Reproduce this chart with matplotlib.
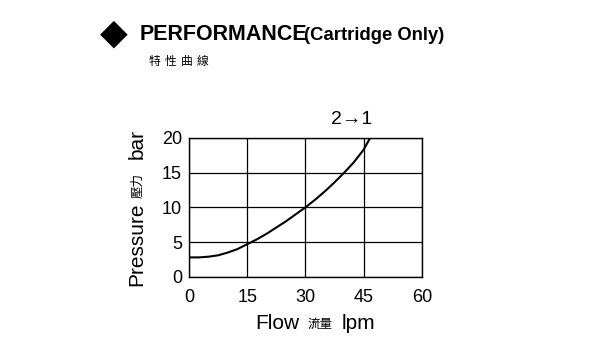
import matplotlib
matplotlib.use("Agg")
import matplotlib.pyplot as plt

# curve 2->1
flow = [0, 2.5, 5, 7.5, 10, 12.5, 15, 17.5, 20, 22.5, 25, 27.5, 30, 32.5, 35, 37.5, 40, 42.5, 45, 46.7]
pressure = [2.8, 2.8, 2.9, 3.1, 3.5, 4.0, 4.7, 5.4, 6.2, 7.1, 8.0, 9.0, 10.0, 11.1, 12.3, 13.6, 15.0, 16.5, 18.3, 20.0]
xticks = [0, 15, 30, 45, 60]
yticks = [0, 5, 10, 15, 20]

plt.rcParams['font.family'] = ['Liberation Sans', 'Noto Sans CJK TC', 'DejaVu Sans']

fig = plt.figure(figsize=(6, 3.5), dpi=100)
ax = fig.add_axes([0.315, 0.209, 0.388, 0.397])

ax.plot(flow, pressure, color='black', lw=1.5)
ax.set_xlim(0, 60)
ax.set_ylim(0, 20)
ax.set_xticks(xticks)
ax.set_yticks(yticks)
ax.tick_params(labelsize=13, length=0)
ax.tick_params(axis='x', pad=9)
ax.tick_params(axis='y', pad=5)
ax.grid(True, color='black', lw=0.9)
for s in ax.spines.values():
    s.set_color('black')
    s.set_linewidth(1)

fig.text(352 / 600, 1 - 120 / 350, '2→1', fontsize=14, ha='center', va='center')

# axis labels made of pieces (CJK part is smaller)
fig.text(0.228, 0.303, 'Pressure', fontsize=15, rotation=90, ha='center', va='center')
fig.text(0.230, 0.469, '壓力', fontsize=9, rotation=90, ha='center', va='center')
fig.text(0.228, 0.589, 'bar', fontsize=15, rotation=90, ha='center', va='center')

fig.text(277 / 600, 0.077, 'Flow', fontsize=15, ha='center', va='center')
fig.text(320 / 600, 0.072, '流量', fontsize=9, ha='center', va='center')
fig.text(358 / 600, 0.077, 'lpm', fontsize=15, ha='center', va='center')

# heading
fig.text(114 / 600, 1 - 34 / 350, '◆', fontsize=26, ha='center', va='center', family='DejaVu Sans')
fig.text(140 / 600, 1 - 40 / 350, 'PERFORMANCE', fontsize=15.5, weight='bold', ha='left', va='baseline')
fig.text(304 / 600, 1 - 40 / 350, '(Cartridge Only)', fontsize=13.3, weight='bold', ha='left', va='baseline')
# subtitle, letter-spaced
for i, ch in enumerate('特性曲線'):
    fig.text((149 + i * 16) / 600, 1 - 62 / 350, ch, fontsize=8.5, ha='left', va='center')

fig.savefig('out.png', dpi=100)
